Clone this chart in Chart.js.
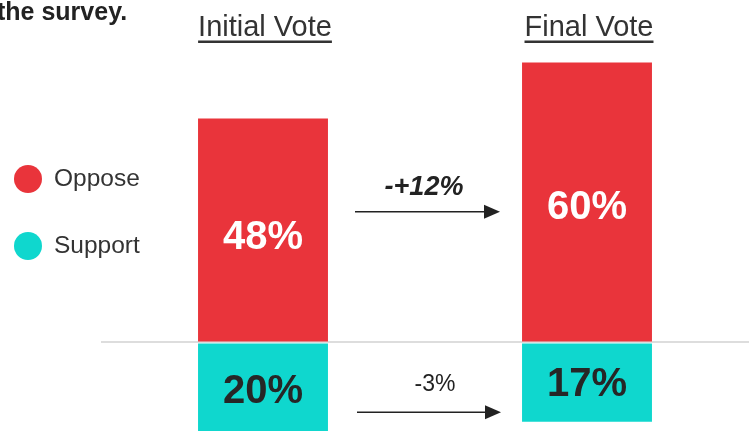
<!DOCTYPE html>
<html>
<head>
<meta charset="utf-8">
<script src="https://cdn.jsdelivr.net/npm/chart.js@4.4.0/dist/chart.umd.min.js"></script>
<style>
  html, body { margin: 0; padding: 0; background: #fff; }
  #wrap { width: 751px; height: 431px; position: relative; }
</style>
</head>
<body>
<div id="wrap"><canvas id="myChart"></canvas></div>
<script>
const categories = ['Initial Vote', 'Final Vote'];
const opposeValues = [48, 60];
const supportValues = [-20, -17];
const opposeLabels = ['48%', '60%'];
const supportLabels = ['20%', '17%'];
const changeLabels = ['-+12%', '-3%'];

const RED = '#E9343B';
const TEAL = '#0FD7CE';
const FONT = '"Liberation Sans", Arial, sans-serif';

// text, legend, arrows and headers
const decorPlugin = {
  id: 'decor',
  afterDatasetsDraw(chart) {
    const ctx = chart.ctx;
    const x = chart.scales.x;
    const y = chart.scales.y;
    ctx.save();

    // cut-off title
    ctx.fillStyle = '#222';
    ctx.font = 'bold 25px ' + FONT;
    ctx.textAlign = 'left';
    ctx.textBaseline = 'middle';
    ctx.fillText('the survey.', -3, 13);

    // category headers, underlined
    ctx.font = '29px ' + FONT;
    ctx.fillStyle = '#333';
    ctx.textAlign = 'center';
    categories.forEach((c, i) => {
      const cx = x.getPixelForValue(i);
      ctx.fillText(c, cx + 2, 28);
      const w = ctx.measureText(c).width;
      ctx.fillRect(cx + 2 - w / 2, 40.5, w, 2.5);
    });

    // legend
    const leg = [['Oppose', RED, 179], ['Support', TEAL, 246]];
    leg.forEach(([t, col, ly]) => {
      ctx.beginPath();
      ctx.arc(28, ly, 14, 0, Math.PI * 2);
      ctx.fillStyle = col;
      ctx.fill();
      ctx.fillStyle = '#333';
      ctx.font = '24.5px ' + FONT;
      ctx.textAlign = 'left';
      ctx.fillText(t, 54, ly);
    });

    // bar value labels
    const m0 = chart.getDatasetMeta(0);
    const m1 = chart.getDatasetMeta(1);
    ctx.textAlign = 'center';
    ctx.font = 'bold 40px ' + FONT;
    m0.data.forEach((bar, i) => {
      ctx.fillStyle = '#fff';
      ctx.fillText(opposeLabels[i], bar.x, (bar.y + bar.base) / 2 + (i === 0 ? 8 : 6));
    });
    m1.data.forEach((bar, i) => {
      ctx.fillStyle = '#262626';
      ctx.fillText(supportLabels[i], bar.x, (bar.y + bar.base) / 2 + 2);
    });

    // change arrows between bars
    const arrows = [
      { label: changeLabels[0], font: 'italic bold 27px ' + FONT, x1: 355, x2: 500, ay: y.getPixelForValue(28), ty: y.getPixelForValue(33.2), tx: 424 },
      { label: changeLabels[1], font: '23px ' + FONT, x1: 357, x2: 501, ay: y.getPixelForValue(-15), ty: y.getPixelForValue(-9), tx: 435 }
    ];
    arrows.forEach(a => {
      ctx.strokeStyle = '#222';
      ctx.fillStyle = '#222';
      ctx.lineWidth = 1.5;
      ctx.beginPath();
      ctx.moveTo(a.x1, a.ay);
      ctx.lineTo(a.x2 - 14, a.ay);
      ctx.stroke();
      ctx.beginPath();
      ctx.moveTo(a.x2, a.ay);
      ctx.lineTo(a.x2 - 16, a.ay - 7);
      ctx.lineTo(a.x2 - 16, a.ay + 7);
      ctx.closePath();
      ctx.fill();
      ctx.font = a.font;
      ctx.textAlign = 'center';
      ctx.fillText(a.label, a.tx, a.ty);
    });

    ctx.restore();
  }
};

new Chart(document.getElementById('myChart'), {
  type: 'bar',
  data: {
    labels: categories,
    datasets: [
      { label: 'Oppose', data: opposeValues, backgroundColor: RED, barPercentage: 0.401, categoryPercentage: 1.0 },
      { label: 'Support', data: supportValues, backgroundColor: TEAL, barPercentage: 0.401, categoryPercentage: 1.0 }
    ]
  },
  options: {
    responsive: true,
    maintainAspectRatio: false,
    animation: false,
    layout: { padding: { left: 101, right: 2, top: 2, bottom: 0 } },
    plugins: {
      legend: { display: false },
      tooltip: { enabled: false },
      title: { display: false }
    },
    scales: {
      x: {
        stacked: true,
        display: false
      },
      y: {
        stacked: true,
        min: -19,
        max: 73,
        display: true,
        ticks: { display: false },
        border: { display: false },
        grid: {
          drawTicks: false,
          lineWidth: 2,
          color: c => (c.tick && c.tick.value === 0 ? '#DDDDDD' : 'rgba(0,0,0,0)')
        }
      }
    }
  },
  plugins: [decorPlugin]
});
</script>
</body>
</html>
